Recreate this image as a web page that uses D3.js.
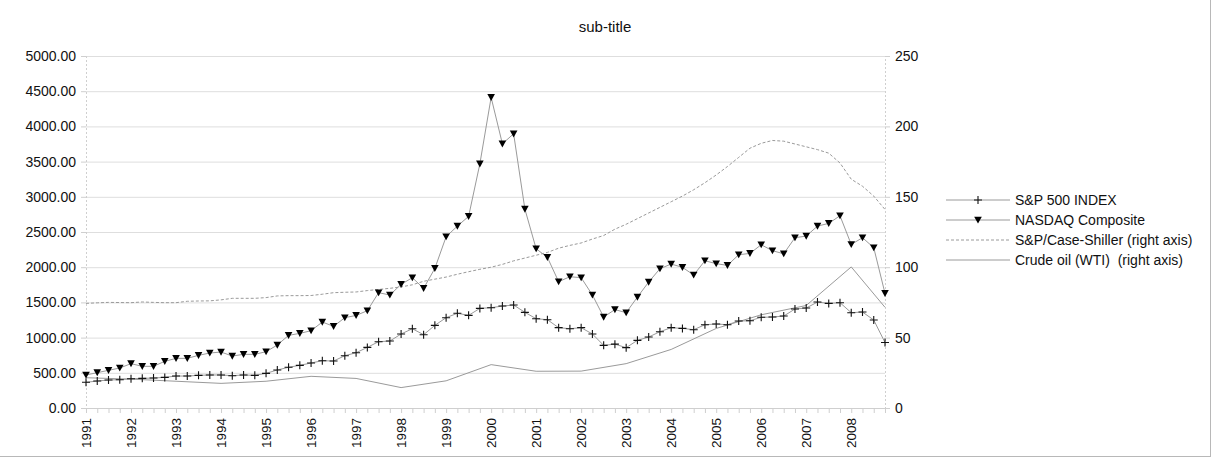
<!DOCTYPE html>
<html><head><meta charset="utf-8">
<script src="https://cdn.jsdelivr.net/npm/d3@7"></script>
<style>
body{margin:0;background:#fff}
svg{display:block;font-family:"Liberation Sans",Arial,sans-serif}
</style>
</head><body>
<svg id="c" width="1211" height="457"></svg>
<script>
// ---------- data ----------
const yearLabels = ["1991","1992","1993","1994","1995","1996","1997","1998","1999","2000","2001","2002","2003","2004","2005","2006","2007","2008"];
const quarterNames = ["Q1","Q2","Q3","Q4"];
const categories = yearLabels.flatMap(y => quarterNames.map(q => y + " " + q));

const sp500 = [365,383,398,402,416,421,426,435,454,454,464,469,469,459,469,464,492,540,578,606,639,672,667,743,785,
  861,942,951,1051,1126,1041,1174,1283,1345,1316,1415,1425,1448,1463,1359,1268,1254,1141,1126,1141,1051,890,907,
  857,961,1008,1084,1141,1131,1112,1183,1193,1183,1235,1240,1288,1292,1306,1406,1420,1505,1486,1496,1354,1363,1250,930];
const nasdaq = [469,502,535,568,630,592,592,663,705,705,748,781,795,738,762,762,800,894,1032,1060,1098,1221,1160,1283,1315,
  1382,1638,1605,1756,1851,1699,1983,2433,2584,2722,3469,4412,3753,3895,2826,2262,2140,1794,1865,1851,1605,1292,1398,
  1354,1576,1789,1978,2045,1998,1889,2092,2050,2026,2177,2196,2319,2234,2191,2419,2442,2584,2622,2731,2323,2419,2277,1628];
const caseShiller = [74.3,74.7,75.0,74.9,74.8,75.3,75.0,74.8,74.8,75.8,76.0,76.1,76.8,77.9,77.9,77.9,78.4,79.6,79.8,79.8,
  79.9,80.8,81.9,82.2,82.4,83.4,84.2,85.0,86.0,87.5,90.0,91.5,93.0,95.0,96.8,98.5,100.0,102.0,104.5,106.5,
  108.5,110.5,113.5,115.5,117.2,120.0,122.5,127.0,130.5,134.5,138.5,142.5,146.5,150.5,155.0,160.0,165.5,171.5,178.0,184.5,
  188.0,190.0,189.5,187.5,185.5,183.5,181.0,174.0,162.5,157.5,150.5,141.0];
// crude oil: yearly values (only first quarter of each year) plus last point
const crudeOil = [21.5,null,null,null, 20.5,null,null,null, 19.0,null,null,null, 17.5,null,null,null,
  19.0,null,null,null, 22.5,null,null,null, 21.0,null,null,null, 14.5,null,null,null,
  19.3,null,null,null, 30.8,null,null,null, 26.1,null,null,null, 26.2,null,null,null,
  31.5,null,null,null, 41.6,null,null,null, 56.5,null,null,null, 66.2,null,null,null,
  72.8,null,null,null, 100.2,null,null,71.5];

const leftTicks = [0,500,1000,1500,2000,2500,3000,3500,4000,4500,5000];
const rightTicks = [0,50,100,150,200,250];
const seriesNames = ["S&P 500 INDEX","NASDAQ Composite","S&P/Case-Shiller (right axis)","Crude oil (WTI)  (right axis)"];
const titleText = "sub-title";

// ---------- chart ----------
const svg = d3.select("#c");
const L = 86, R = 885, T = 56, B = 408;
const x = d3.scalePoint().domain(categories).range([L, R]);
const yL = d3.scaleLinear().domain([0, 5000]).range([B, T]);
const yR = d3.scaleLinear().domain([0, 250]).range([B, T]);
const gridC = "#dedede", lineC = "#9a9a9a", textC = "#111";

// border
svg.append("line").attr("x1",1210.5).attr("x2",1210.5).attr("y1",0).attr("y2",457).attr("stroke","#b8b8b8");
svg.append("line").attr("x1",0).attr("x2",1211).attr("y1",456.5).attr("y2",456.5).attr("stroke","#b8b8b8");

// title
svg.append("text").attr("x",605).attr("y",32).attr("text-anchor","middle")
  .attr("font-size",15).attr("fill",textC).text(titleText);

// gridlines
const grid = svg.append("g").attr("transform",`translate(${L},0)`)
  .call(d3.axisLeft(yL).tickValues(leftTicks).tickSize(-(R-L)).tickFormat(""));
grid.select(".domain").remove();
grid.selectAll("line").attr("stroke",gridC);

// left axis
const ax = svg.append("g").attr("transform",`translate(${L},0)`)
  .call(d3.axisLeft(yL).tickValues(leftTicks).tickSize(5).tickPadding(5).tickFormat(d3.format(".2f")));
ax.select(".domain").attr("stroke","#cfcfcf").attr("stroke-dasharray","2,2");
ax.selectAll("line").attr("stroke","#cfcfcf");
ax.selectAll("text").attr("font-size",14).attr("fill",textC).attr("font-family","Liberation Sans, Arial, sans-serif");

// right axis
const ar = svg.append("g").attr("transform",`translate(${R},0)`)
  .call(d3.axisRight(yR).tickValues(rightTicks).tickSize(5).tickPadding(5));
ar.select(".domain").attr("stroke","#cfcfcf").attr("stroke-dasharray","2,2");
ar.selectAll("line").attr("stroke","#cfcfcf");
ar.selectAll("text").attr("font-size",14).attr("fill",textC).attr("font-family","Liberation Sans, Arial, sans-serif");

// x axis
const axb = svg.append("g").attr("transform",`translate(0,${B})`)
  .call(d3.axisBottom(x).tickSize(5).tickSizeOuter(0)
    .tickFormat(d => d.endsWith("Q1") ? yearLabels[categories.indexOf(d)/4] : ""));
axb.select(".domain").attr("stroke","#cfcfcf");
axb.selectAll("line").attr("stroke","#cfcfcf");
axb.selectAll("text").attr("font-size",13.5).attr("fill",textC).attr("font-family","Liberation Sans, Arial, sans-serif")
  .attr("text-anchor","end").attr("transform","translate(0,1) rotate(-90)")
  .attr("x",-9).attr("y",0).attr("dy","0.35em");

// lines
const idx = (d,i) => x(categories[i]);
const lineL = d3.line().x(idx).y(d => yL(d));
const lineR = d3.line().x(d => x(d.c)).y(d => yR(d.v));

svg.append("path").datum(caseShiller).attr("fill","none").attr("stroke",lineC).attr("stroke-width",1)
  .attr("stroke-dasharray","3,2").attr("d", d3.line().x(idx).y(d => yR(d)));
const crudePts = crudeOil.map((v,i) => ({c: categories[i], v})).filter(d => d.v !== null);
svg.append("path").datum(crudePts).attr("fill","none").attr("stroke",lineC).attr("stroke-width",1).attr("d", lineR);
svg.append("path").datum(sp500).attr("fill","none").attr("stroke",lineC).attr("stroke-width",1).attr("d", lineL);
svg.append("path").datum(nasdaq).attr("fill","none").attr("stroke",lineC).attr("stroke-width",1).attr("d", lineL);

const plusPath = "M-4,0H4M0,-4V4";
const triPath = "M-3.8,-3.3L3.8,-3.3L0,3.6Z";

svg.append("g").selectAll("path").data(sp500).join("path")
  .attr("transform",(d,i) => `translate(${x(categories[i])},${yL(d)})`)
  .attr("d",plusPath).attr("stroke","#111").attr("stroke-width",1.1).attr("fill","none");
svg.append("g").selectAll("path").data(nasdaq).join("path")
  .attr("transform",(d,i) => `translate(${x(categories[i])},${yL(d)})`)
  .attr("d",triPath).attr("fill","#000");

// legend
const lg = svg.append("g");
const rowsY = [200,220,240,260];
seriesNames.forEach((name,k) => {
  const y = rowsY[k];
  const ln = lg.append("line").attr("x1",946).attr("x2",1010).attr("y1",y).attr("y2",y)
    .attr("stroke",lineC).attr("stroke-width",1);
  if (k === 2) ln.attr("stroke-dasharray","3,2");
  if (k === 0) lg.append("path").attr("transform",`translate(978,${y})`).attr("d",plusPath).attr("stroke","#111").attr("stroke-width",1.1);
  if (k === 1) lg.append("path").attr("transform",`translate(978,${y})`).attr("d",triPath).attr("fill","#000");
  lg.append("text").attr("x",1015).attr("y",y+5).attr("font-size",14).attr("fill",textC)
    .style("white-space","pre").attr("xml:space","preserve").text(name);
});
</script>
</body></html>
